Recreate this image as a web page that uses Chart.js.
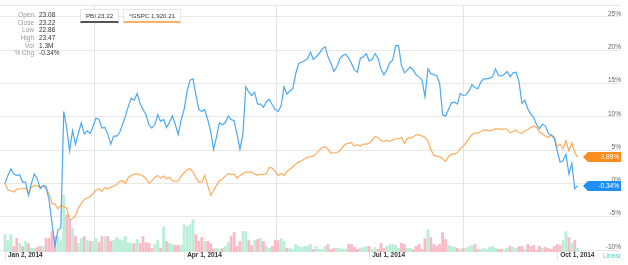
<!DOCTYPE html>
<html>
<head>
<meta charset="utf-8">
<script src="https://cdn.jsdelivr.net/npm/chart.js@4.4.1/dist/chart.umd.min.js"></script>
<style>
  html, body { margin: 0; padding: 0; background: #fff; }
  #wrap { position: relative; width: 628px; height: 265px; font-family: "Liberation Sans", Arial, sans-serif; overflow: hidden; }
  #chart { position: absolute; left: 0; top: 0; }
  .info { position: absolute; left: 0; top: 11px; font-size: 6.5px; line-height: 7.65px; }
  .info .k { position: absolute; left: 0; width: 34px; text-align: right; color: #9a9a9a; white-space: nowrap; }
  .info .v { position: absolute; left: 39px; color: #333; white-space: nowrap; }
  .leg { position: absolute; top: 9px; height: 11px; line-height: 12px; font-size: 6.2px; color: #333;
         border: 1px solid #e6e6e6; border-bottom: 2px solid #555; background: #fff; text-align: center; white-space: nowrap; }
  #linear { position: absolute; left: 603px; top: 252px; font-size: 6.5px; color: #56d0c0; }
</style>
</head>
<body>
<div id="wrap">
  <canvas id="chart" width="628" height="265"></canvas>
  <div class="info" id="info"></div>
  <div class="leg" style="left:80px;width:37px;">PBI 23.22</div>
  <div class="leg" style="left:123px;width:56px;border-bottom-color:#fdb064;">^GSPC 1,920.21</div>
  <div id="linear">Linear</div>
</div>
<script>
/* ── Datos: % de cambio desde el 2 de enero de 2014, un valor por sesión ── */
const pbi = [
  0, 1.2, 2.2, 1.4, 1.2, 1.3, 0.2, 0.2, -1.8, 0, 1.4, 0.7, -0.8, -0.3, -0.5, -2.5, -6.0, -9.4, -7.0, -6.7,
  10.8, 8.3, 4.9, 7.9, 5.9, 7.6, 9.1, 7.4, 7.9, 7.5, 8.6, 9.8, 9.6, 8.3, 8.4, 7.4, 5.9, 7.1, 7.1, 7.6,
  8.8, 10.1, 11.6, 12.8, 12.5, 13.5, 12.0, 11.1, 10.3, 8.8, 8.3, 8.8, 10.3, 9.3, 9.6, 8.4, 9.2, 10.1, 8.8, 7.3,
  9.6, 11.1, 13.8, 15.5, 15.7, 13.3, 11.1, 10.8, 11.1, 9.6, 7.9, 5.1, 6.9, 9.1, 8.8, 9.1, 10.1, 9.6, 9.4, 7.4,
  5.1, 7.4, 14.5, 13.7, 13.2, 13.7, 11.9, 11.9, 11.4, 12.3, 12.6, 11.8, 11.1, 10.8, 11.6, 14.5, 13.4, 13.9, 14.2, 16.5,
  18.0, 18.2, 18.4, 18.7, 19.7, 18.6, 19.0, 19.5, 20.2, 20.5, 19.0, 18.0, 16.8, 17.5, 18.7, 19.2, 19.4, 18.8, 18.0, 17.0,
  16.7, 18.8, 19.0, 19.5, 18.4, 18.6, 19.5, 18.8, 17.2, 16.3, 17.0, 18.1, 18.5, 20.7, 20.7, 17.7, 16.6, 17.0, 17.5, 17.0,
  16.3, 16.0, 15.5, 13.0, 17.2, 16.5, 16.3, 16.2, 15.0, 10.3, 10.1, 11.1, 12.1, 12.2, 11.9, 13.5, 13.2, 13.3, 13.9, 14.8,
  14.4, 14.2, 15.2, 15.7, 15.7, 15.8, 16.0, 17.2, 16.2, 16.1, 16.4, 16.8, 16.0, 16.6, 16.7, 15.3, 12.0, 12.5, 11.2, 10.4,
  9.9, 8.8, 8.2, 8.9, 8.6, 7.5, 7.2, 6.8, 4.9, 3.2, 3.4, 4.4, 1.4, 3.0, -0.8, -0.34
];
const gspc = [
  0, -1.0, -1.1, -1.3, -0.9, -0.8, -0.8, -0.7, -1.5, -0.6, -0.3, -0.4, -0.5, -0.5, -0.8, -1.5, -3.0, -3.1, -3.8, -3.3,
  -3.5, -3.7, -5.5, -5.3, -4.8, -3.7, -3.0, -2.4, -2.2, -2.0, -1.5, -1.0, -0.8, -1.2, -0.6, -0.8, -0.6, -0.4, -0.2, 0.3,
  0.4, 0.0, 0.9, 1.2, 1.4, 1.4, 1.3, 1.1, 0.7, 0.0, 0.4, 0.9, 1.2, 0.8, 1.1, 0.7, 0.9, 0.4, 0.3, 0.4,
  1.1, 1.6, 2.0, 2.2, 1.7, 0.9, 0.2, 0.2, 1.2, -0.3, -1.8, -1.1, -0.3, 0.4, 0.7, 1.1, 1.5, 1.3, 1.4, 0.8,
  1.2, 1.5, 1.7, 1.7, 1.7, 1.4, 1.2, 1.4, 1.3, 1.5, 2.4, 2.3, 1.8, 1.2, 1.5, 1.2, 1.8, 2.1, 2.5, 2.9,
  3.2, 3.4, 3.7, 3.9, 4.0, 4.1, 4.5, 5.0, 5.4, 5.5, 5.1, 4.5, 4.6, 4.6, 4.9, 5.5, 5.9, 6.0, 6.1, 5.6,
  5.8, 5.6, 5.9, 5.9, 6.0, 6.5, 7.0, 6.9, 6.4, 6.3, 6.5, 6.3, 6.5, 6.7, 6.7, 6.9, 6.0, 6.8, 6.8, 7.0,
  7.3, 7.3, 7.1, 6.9, 6.4, 5.1, 4.2, 4.1, 4.0, 3.7, 3.3, 4.0, 4.4, 4.4, 4.6, 5.2, 5.6, 6.1, 6.8, 7.3,
  7.6, 7.5, 7.8, 8.0, 8.0, 7.9, 8.0, 8.2, 8.2, 8.1, 8.2, 8.1, 7.6, 7.8, 8.0, 7.6, 7.5, 7.9, 8.1, 8.4,
  8.6, 8.4, 7.7, 7.4, 7.1, 6.9, 7.3, 7.0, 5.5, 5.9, 5.2, 6.4, 4.9, 6.1, 4.6, 3.89
];
/* Volumen de PBI, en millones */
const volume = [
  5.4, 3.6, 5.4, 1.8, 4.2, 2.7, 1.8, 3.3, 2.7, 1.2, 1.2, 1.5, 1.8, 1.8, 4.2, 4.2, 6.3, 4.8, 4.8, 3.6,
  17.4, 11.4, 9.6, 7.2, 4.8, 2.7, 4.2, 4.8, 3.6, 3.3, 3.3, 4.2, 3.0, 4.8, 4.8, 4.8, 3.3, 3.6, 4.5, 3.9,
  3.6, 4.8, 3.0, 2.7, 2.7, 3.9, 2.7, 4.8, 3.0, 2.7, 1.2, 2.4, 3.6, 1.2, 7.8, 3.3, 2.7, 2.4, 2.1, 2.1,
  2.1, 8.4, 7.8, 8.4, 9.9, 5.4, 3.3, 4.5, 3.3, 3.3, 2.7, 0.9, 1.2, 0.9, 1.2, 1.8, 3.0, 4.8, 6.0, 1.8,
  3.3, 6.3, 6.3, 3.6, 2.1, 3.6, 3.9, 4.2, 3.3, 1.8, 1.2, 1.8, 3.6, 3.6, 4.2, 3.3, 1.2, 1.2, 0.9, 2.4,
  1.8, 1.5, 1.8, 1.8, 2.4, 0.9, 1.8, 0.9, 0.9, 1.8, 2.4, 0.9, 1.2, 1.2, 1.2, 0.9, 0.9, 2.4, 2.4, 1.5,
  0.9, 1.2, 1.5, 1.8, 1.8, 0.9, 1.5, 0.9, 2.7, 1.2, 1.8, 2.4, 2.4, 2.1, 1.2, 2.7, 2.4, 1.2, 1.2, 0.9,
  1.8, 2.4, 0.9, 4.2, 6.9, 4.5, 2.4, 1.8, 2.4, 6.0, 3.9, 2.1, 1.8, 1.5, 1.2, 0.9, 1.2, 1.2, 1.8, 2.1,
  2.4, 0.9, 0.9, 1.2, 0.9, 1.5, 1.8, 1.2, 0.9, 0.9, 0.9, 1.2, 1.8, 1.5, 1.2, 1.8, 1.8, 0.9, 2.4, 1.8,
  2.1, 0.6, 1.8, 1.2, 1.5, 1.2, 0.9, 1.8, 2.4, 2.1, 3.6, 6.3, 4.5, 2.7, 3.6, 1.3
];
/* Etiquetas del eje X: índice de sesión y texto */
const dateTickIdx = [0, 61, 124, 188];
const dateTickText = ['Jan 2, 2014', 'Apr 1, 2014', 'Jul 1, 2014', 'Oct 1, 2014'];
const pctTicks = [-10, -5, 0, 5, 10, 15, 20, 25];

/* Cuadro de cotización arriba a la izquierda */
const infoKeys = ['Open', 'Close', 'Low', 'High', 'Vol', '% Chg'];
const infoVals = ['23.08', '23.22', '22.86', '23.47', '1.3M', '-0.34%'];

(function () {
  const info = document.getElementById('info');
  infoKeys.forEach((k, i) => {
    const top = (i * 7.65) + 'px';
    info.insertAdjacentHTML('beforeend',
      `<div class="k" style="top:${top}">${k}</div><div class="v" style="top:${top}">${infoVals[i]}</div>`);
  });
})();

const FONT = '"Liberation Sans", Arial, sans-serif';
const BLUE = '#4aa9f2', ORANGE = '#fdac5c';
const UP = '#b9eed8', DOWN = '#fbb9c6';

const pts = arr => arr.map((v, i) => ({ x: i, y: v }));
const barColors = pbi.map((v, i) => (i === 0 || v >= pbi[i - 1]) ? UP : DOWN);

/* Borde superior + etiqueta con flecha al final de cada serie */
const lastTags = {
  id: 'lastTags',
  beforeDatasetsDraw(chart) {
    const { ctx, chartArea, scales } = chart;
    ctx.save();
    ctx.strokeStyle = '#e4e4e4';
    ctx.lineWidth = 1;
    ctx.beginPath();
    ctx.moveTo(chartArea.left, chartArea.top + 0.5);
    ctx.lineTo(chartArea.right, chartArea.top + 0.5);
    /* las líneas verticales de fecha bajan un poco por la zona de etiquetas */
    dateTickIdx.forEach(v => {
      const x = Math.round(scales.x.getPixelForValue(v)) + 0.5;
      ctx.moveTo(x, chartArea.bottom);
      ctx.lineTo(x, chartArea.bottom + 8);
    });
    ctx.stroke();
    ctx.restore();
  },
  afterDatasetsDraw(chart) {
    const { ctx, chartArea, scales } = chart;
    ctx.save();
    chart.data.datasets.forEach(ds => {
      if (!ds.tagColor) return;
      const last = ds.data[ds.data.length - 1];
      const y = Math.round(scales.y.getPixelForValue(last.y));
      const r = chartArea.right + 1, l = r - 33, h = 10;
      ctx.fillStyle = ds.tagColor;
      ctx.beginPath();
      ctx.moveTo(l - 5, y);
      ctx.lineTo(l, y - h / 2);
      ctx.lineTo(r, y - h / 2);
      ctx.lineTo(r, y + h / 2);
      ctx.lineTo(l, y + h / 2);
      ctx.closePath();
      ctx.fill();
      ctx.fillStyle = '#fff';
      ctx.font = '6.5px ' + FONT;
      ctx.textAlign = 'right';
      ctx.textBaseline = 'middle';
      ctx.fillText(last.y.toFixed(2) + '%', r - 2, y + 0.5);
    });
    ctx.restore();
  }
};

new Chart(document.getElementById('chart'), {
  data: {
    datasets: [
      {
        type: 'line', label: 'PBI', data: pts(pbi), yAxisID: 'y',
        borderColor: BLUE, borderWidth: 1.2, pointRadius: 0, tension: 0, order: 1, tagColor: '#1e8ff5'
      },
      {
        type: 'line', label: '^GSPC', data: pts(gspc), yAxisID: 'y',
        borderColor: ORANGE, borderWidth: 1.2, pointRadius: 0, tension: 0, order: 2, tagColor: '#fb8c1e'
      },
      {
        type: 'bar', label: 'Vol', data: pts(volume), yAxisID: 'yv',
        backgroundColor: barColors, borderWidth: 0, barPercentage: 0.95, categoryPercentage: 1, order: 3
      }
    ]
  },
  options: {
    responsive: false,
    animation: false,
    devicePixelRatio: 1,
    layout: { padding: { left: 0, top: 2, right: 6, bottom: 0 } },
    plugins: { legend: { display: false }, tooltip: { enabled: false } },
    scales: {
      x: {
        type: 'linear',
        min: -1.7,
        max: 209.4,
        offset: false,
        afterBuildTicks: axis => { axis.ticks = dateTickIdx.map(v => ({ value: v })); },
        afterFit: axis => { axis.height = 13; },
        grid: { color: '#e4e4e4', lineWidth: 1, drawTicks: false },
        border: { display: false },
        ticks: {
          autoSkip: false, maxRotation: 0, align: 'start', labelOffset: 3, padding: -1,
          color: '#333', font: { family: FONT, size: 6.5, weight: 'bold' },
          callback: v => dateTickText[dateTickIdx.indexOf(v)]
        }
      },
      y: {
        position: 'right',
        min: -10.3,
        max: 26.8,
        afterBuildTicks: axis => { axis.ticks = pctTicks.map(v => ({ value: v })); },
        grid: { color: '#e8e8e8', lineWidth: 1, drawTicks: false },
        border: { display: false },
        ticks: {
          mirror: true, padding: 1, labelOffset: -3,
          color: '#666', font: { family: FONT, size: 6.5 },
          callback: v => v + '%'
        }
      },
      yv: {
        display: false,
        min: 0,
        max: 75
      }
    }
  },
  plugins: [lastTags]
});
</script>
</body>
</html>
